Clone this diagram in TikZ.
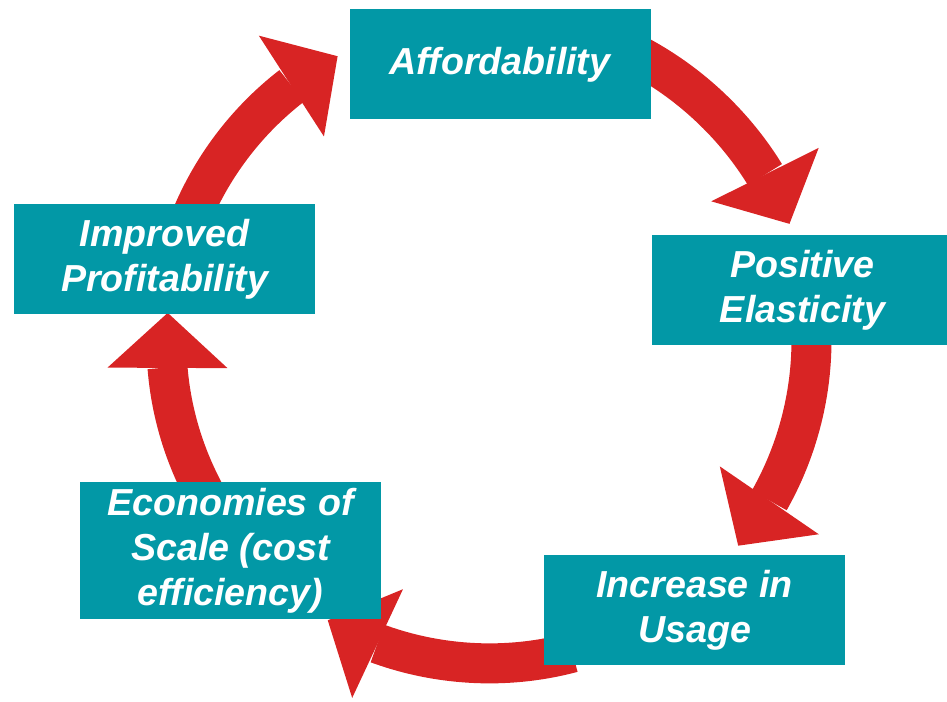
\documentclass[tikz,border=0pt]{standalone}
\usepackage{fontspec}
\setmainfont{Liberation Sans}
\usetikzlibrary{arrows.meta,bending,calc,backgrounds}

\definecolor{boxteal}{RGB}{2,152,166}
\definecolor{cyclered}{RGB}{216,36,36}

\begin{document}
\begin{tikzpicture}[
  stage/.style={rectangle, fill=boxteal, text=white, inner sep=0pt,
    minimum width=6.02cm, minimum height=2.2cm, align=center,
    font=\fontsize{21.4}{25.6}\selectfont\bfseries\itshape},
  flow/.style={draw=cyclered, line width=0.8cm, looseness=0.88,
    -{Triangle[width=2.4cm,length=1.1cm,line width=0pt]}}
]
\useasboundingbox (0,0) rectangle (18.94,14.04);

% --- stages ---
\node[stage] (afford) at (10.00,12.75) {Affordability};
\node[stage] (elastic) at (16.05,8.23) {Positive\\Elasticity};
\node[stage] (usage) at (13.89,1.84) {Increase in\\Usage};
\node[stage, minimum height=2.74cm] (scale) at (4.61,3.03) {Economies of\\Scale (cost\\efficiency)};
\node[stage] (profit) at (3.29,8.86) {Improved\\Profitability};

% --- points on the ring ---
\coordinate (O) at (9.78,7.22);
\coordinate (s1) at ($(O)+(75:6.45)$);
\coordinate (e1) at ($(O)+(21.3:6.45)$);
\coordinate (s2) at ($(O)+(5:6.45)$);
\coordinate (e2) at ($(O)+(-39.4:6.45)$);
\coordinate (s3) at ($(O)+(-75:6.45)$);
\coordinate (e3) at ($(O)+(-120:6.45)$);
\coordinate (s4) at ($(O)+(-150:6.45)$);
\coordinate (e4) at ($(O)+(-185:6.45)$);
\coordinate (s5) at ($(O)+(160:6.45)$);
\coordinate (e5) at ($(O)+(118:6.45)$);

% --- arrows, behind the boxes ---
\begin{scope}[on background layer]
\draw[flow] (s1) to[bend left=26.9] (e1);
\draw[flow] (s2) to[bend left=22.2] (e2);
\draw[flow] (s3) to[bend left=22.5] (e3);
\draw[flow] (s4) to[bend left=17.5] (e4);
\draw[flow] (s5) to[bend left=21] (e5);
\end{scope}

\end{tikzpicture}
\end{document}
